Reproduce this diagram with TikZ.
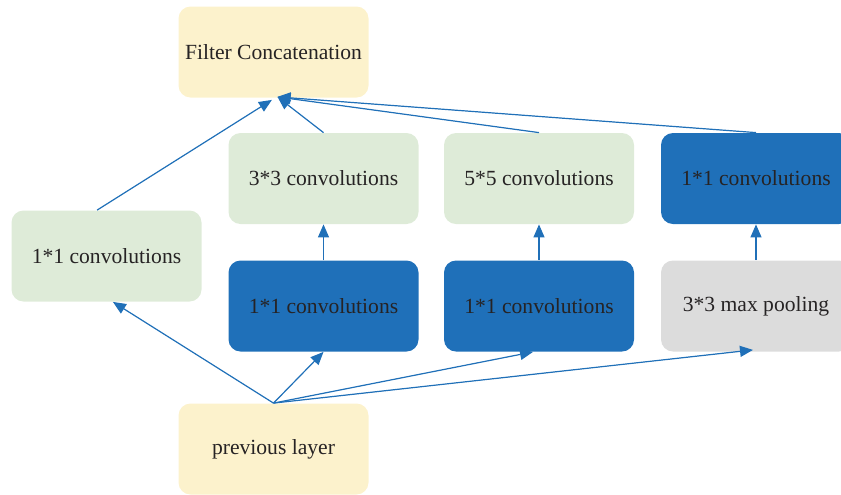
\documentclass[tikz,border=0pt]{standalone}
\usepackage{fontspec}
\setmainfont{Liberation Serif}
\usetikzlibrary{arrows.meta}
\definecolor{boxyellow}{HTML}{FCF2CC}
\definecolor{boxgreen}{HTML}{DEEBD8}
\definecolor{boxblue}{HTML}{1F70B9}
\definecolor{boxgray}{HTML}{DCDCDC}
\definecolor{linkblue}{HTML}{2070B8}
\definecolor{txtgray}{HTML}{262324}
\begin{document}
\begin{tikzpicture}[x=0.5pt, y=-0.5pt, font=\fontsize{10.8}{13}\selectfont,
	block/.style={rounded corners=6pt, minimum width=95pt, minimum height=45.5pt, text=txtgray, inner sep=0pt},
	arr/.style={-{Triangle[length=6.5pt, width=5.5pt]}, draw=linkblue, fill=linkblue, line width=0.6pt}]
		\useasboundingbox (0,0) rectangle (841,494);
		% Eingang und Ausgang (gelb)
		\node[block, fill=boxyellow] (concat) at (273.5,52) {Filter Concatenation};
		\node[block, fill=boxyellow] (prev) at (273.5,449) {previous layer};
		% Faltungen
		\node[block, fill=boxgreen] (conv1) at (106.5,256) {1*1 convolutions};
		\node[block, fill=boxgreen] (conv3) at (323.5,178.5) {3*3 convolutions};
		\node[block, fill=boxgreen] (conv5) at (539,178.5) {5*5 convolutions};
		\node[block, fill=boxblue] (proj) at (756,178.5) {1*1 convolutions};
		\node[block, fill=boxblue] (red3) at (323.5,306) {1*1 convolutions};
		\node[block, fill=boxblue] (red5) at (539,306) {1*1 convolutions};
		\node[block, fill=boxgray] (pool) at (756,306) {3*3 max pooling};
		% Pfeile von unten
		\draw[arr] (prev.north) -- ([xshift=3.2pt]conv1.south);
		\draw[arr] (prev.north) -- (red3.south);
		\draw[arr] (prev.north) -- ([xshift=-3pt]red5.south);
		\draw[arr] (prev.north) -- ([xshift=-1.5pt, yshift=1pt]pool.south);
		\foreach \a/\b in {red3/conv3, red5/conv5, pool/proj} {
			\draw[arr] (\a.north) -- (\b.south);
		}
		% Pfeile nach oben
		\draw[arr] ([xshift=-4.7pt]conv1.north) -- ([xshift=-0.8pt, yshift=-1pt]concat.south);
		\foreach \n in {conv3, conv5, proj} {
			\draw[arr] (\n.north) -- ([xshift=2pt, yshift=0.5pt]concat.south);
		}
	\end{tikzpicture}
\end{document}
